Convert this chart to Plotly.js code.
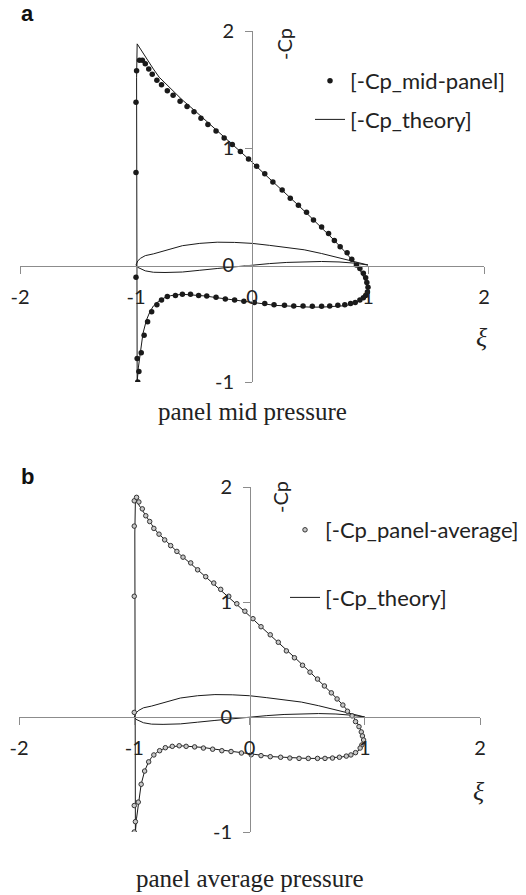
<!DOCTYPE html>
<html>
<head>
<meta charset="utf-8">
<script src="https://cdn.plot.ly/plotly-3.0.1.min.js"></script>
<style>
  html, body { margin: 0; padding: 0; background: #fff; }
  #chart { width: 526px; height: 895px; }
</style>
</head>
<body>
<div id="chart"></div>
<script>
// Airfoil outline (closed loop: leading edge -> upper surface -> trailing edge -> lower surface)
const airfoilX = [-1, -0.985, -0.96, -0.92, -0.85, -0.75, -0.6, -0.45, -0.3, -0.15, 0, 0.15, 0.3, 0.45, 0.6, 0.75, 0.88, 1.0,
                  0.88, 0.75, 0.6, 0.45, 0.3, 0.15, 0, -0.15, -0.3, -0.45, -0.6, -0.75, -0.85, -0.92, -0.96, -0.985, -1];
const airfoilY = [0, 0.035, 0.058, 0.08, 0.095, 0.125, 0.165, 0.185, 0.195, 0.193, 0.185, 0.168, 0.15, 0.13, 0.098, 0.062, 0.03, 0,
                  0.016, 0.026, 0.03, 0.029, 0.022, 0.012, 0, -0.012, -0.03, -0.045, -0.06, -0.064, -0.062, -0.05, -0.035, -0.02, 0];

// Exact (theory) pressure distribution, -Cp vs xi
const theoryX = [1.0, 0.995, 0.985, 0.97, 0.95, 0.93, 0.9, 0.85, 0.8, 0.7, 0.6, 0.5, 0.4, 0.3, 0.2, 0.1, 0.0,
                 -0.1, -0.2, -0.3, -0.4, -0.5, -0.6, -0.7, -0.8, -0.85, -0.9, -0.94, -0.96, -0.98, -0.99, -0.995, -0.995,
                 -0.99, -0.98, -0.97, -0.96, -0.94, -0.91, -0.88, -0.85, -0.8, -0.75, -0.7, -0.6, -0.5, -0.4, -0.3, -0.2,
                 -0.1, 0.0, 0.1, 0.2, 0.3, 0.4, 0.5, 0.6, 0.7, 0.8, 0.85, 0.9, 0.95, 0.975, 0.99, 1.0];
const theoryY = [-0.22, -0.19, -0.155, -0.12, -0.08, -0.04, 0.0, 0.06, 0.115, 0.22, 0.32, 0.415, 0.51, 0.6, 0.695, 0.785, 0.88,
                 0.97, 1.06, 1.15, 1.24, 1.325, 1.41, 1.51, 1.605, 1.675, 1.755, 1.82, 1.85, 1.88, 1.89, 1.6, -0.98,
                 -1.0, -0.88, -0.8, -0.72, -0.585, -0.47, -0.4, -0.35, -0.305, -0.278, -0.262, -0.25, -0.255, -0.265, -0.28, -0.293,
                 -0.31, -0.325, -0.335, -0.345, -0.35, -0.357, -0.36, -0.36, -0.357, -0.348, -0.337, -0.32, -0.29, -0.265, -0.245, -0.22];

// Panel a: -Cp evaluated at the panel mid points
const midX = [-1.0, -1.0, -0.995, -0.97, -0.945, -0.92, -0.89, -0.86, -0.82, -0.78, -0.73, -0.68, -0.62, -0.56, -0.5, -0.44,
              -0.38, -0.31, -0.24, -0.17, -0.1, -0.03, 0.04, 0.11, 0.18, 0.26, 0.33, 0.4, 0.47, 0.53, 0.6, 0.66, 0.71,
              0.76, 0.82, 0.86, 0.9, 0.93, 0.96, 0.98, 0.99, 1.0,
              -1.0, -0.99, -0.985, -0.975, -0.955, -0.93, -0.9, -0.865, -0.82, -0.78, -0.73, -0.66, -0.6, -0.53, -0.46,
              -0.39, -0.31, -0.23, -0.15, -0.07, 0.02, 0.11, 0.19, 0.28, 0.36, 0.44, 0.52, 0.6, 0.67, 0.74, 0.8, 0.85,
              0.89, 0.93, 0.96, 0.98, 0.995];
const midY = [0.79, 1.39, 1.66, 1.75, 1.75, 1.72, 1.675, 1.63, 1.58, 1.54, 1.49, 1.45, 1.4, 1.355, 1.31, 1.255,
              1.2, 1.145, 1.085, 1.03, 0.97, 0.905, 0.845, 0.78, 0.71, 0.64, 0.57, 0.51, 0.45, 0.385, 0.325, 0.27, 0.21,
              0.155, 0.105, 0.05, 0.0, -0.03, -0.07, -0.11, -0.15, -0.19,
              -0.105, -0.8, -1.0, -0.91, -0.75, -0.6, -0.485, -0.4, -0.34, -0.3, -0.27, -0.26, -0.25, -0.25, -0.26,
              -0.265, -0.275, -0.29, -0.3, -0.31, -0.32, -0.33, -0.34, -0.345, -0.35, -0.35, -0.353, -0.353, -0.35, -0.345, -0.34, -0.33,
              -0.32, -0.3, -0.28, -0.26, -0.23];

// Panel b: panel-averaged -Cp
const avgX = [-1.0, -1.0, -1.0, -1.0, -0.98, -0.96, -0.93, -0.9, -0.866, -0.83, -0.785, -0.736, -0.684, -0.63, -0.577, -0.51,
              -0.45, -0.38, -0.31, -0.25, -0.18, -0.11, -0.04, 0.03, 0.1, 0.18, 0.25, 0.32, 0.39, 0.46, 0.525, 0.59, 0.65,
              0.71, 0.76, 0.81, 0.85, 0.89, 0.92, 0.95, 0.97, 0.98, 0.99,
              0.975, 0.96, 0.92, 0.88, 0.84, 0.78, 0.72, 0.655, 0.59, 0.51, 0.43, 0.35, 0.27, 0.18, 0.1, 0.015, -0.07,
              -0.16, -0.24, -0.32, -0.4, -0.476, -0.55, -0.61, -0.67, -0.73, -0.78, -0.83, -0.875, -0.91, -0.94, -0.965,
              -0.99, -1.0, -1.0];
const avgY = [0.04, 1.05, 1.66, 1.88, 1.91, 1.87, 1.81, 1.75, 1.7, 1.64, 1.59, 1.54, 1.49, 1.44, 1.39, 1.34,
              1.28, 1.22, 1.165, 1.11, 1.05, 0.985, 0.92, 0.855, 0.785, 0.715, 0.65, 0.575, 0.515, 0.45, 0.39, 0.33, 0.27,
              0.21, 0.157, 0.104, 0.05, 0.01, -0.04, -0.084, -0.13, -0.165, -0.2,
              -0.243, -0.27, -0.31, -0.33, -0.34, -0.35, -0.357, -0.36, -0.36, -0.36, -0.36, -0.357, -0.35, -0.345, -0.336, -0.328, -0.313,
              -0.3, -0.293, -0.28, -0.27, -0.26, -0.255, -0.25, -0.255, -0.267, -0.293, -0.33, -0.39, -0.47, -0.585, -0.74,
              -0.91, -0.77, -1.0];

const xTicks = [-2, -1, 0, 1, 2];
const yTicks = [-1, 0, 1, 2];

const W = 526, H = 895;
const px = v => v / W;          // pixel -> paper x
const py = v => 1 - v / H;      // pixel -> paper y

const INK = '#1a1a1a';
const AXIS = '#8c8c8c';
const sans = 'Lato, "Open Sans", sans-serif';
const tickFont = { family: sans, size: 20, color: '#222' };

function xAxis(domain, yPos) {
  return {
    domain: domain, range: [-2, 2], anchor: 'free', position: yPos,
    tickvals: xTicks, ticktext: xTicks.map(String), ticks: 'outside', ticklen: 7, tickcolor: AXIS, tickwidth: 1,
    showline: true, linecolor: AXIS, linewidth: 1, showgrid: false, zeroline: false,
    tickfont: tickFont, ticklabelstandoff: 6, fixedrange: true
  };
}
function yAxis(domain, xPos) {
  return {
    domain: domain, range: [-1, 2], anchor: 'free', position: xPos,
    tickvals: yTicks, ticktext: yTicks.map(String), ticks: 'outside', ticklen: 7, tickcolor: AXIS, tickwidth: 1,
    showline: true, linecolor: AXIS, linewidth: 1, showgrid: false, zeroline: false,
    tickfont: tickFont, ticklabelstandoff: 7, fixedrange: true
  };
}

const traces = [
  // panel a
  { x: airfoilX, y: airfoilY, xaxis: 'x', yaxis: 'y', mode: 'lines', line: { color: INK, width: 1 },
    showlegend: false, hoverinfo: 'skip' },
  { x: midX, y: midY, xaxis: 'x', yaxis: 'y', mode: 'markers', name: '[-Cp_mid-panel]',
    marker: { color: INK, size: 5.5 }, legend: 'legend', legendgroup: 'a1' },
  { x: theoryX, y: theoryY, xaxis: 'x', yaxis: 'y', mode: 'lines', name: '[-Cp_theory]',
    line: { color: INK, width: 1 }, legend: 'legend', legendgroup: 'a2' },
  // panel b
  { x: airfoilX, y: airfoilY, xaxis: 'x2', yaxis: 'y2', mode: 'lines', line: { color: INK, width: 1 },
    showlegend: false, hoverinfo: 'skip' },
  { x: theoryX, y: theoryY, xaxis: 'x2', yaxis: 'y2', mode: 'lines', name: '[-Cp_theory]',
    line: { color: INK, width: 1 }, legend: 'legend2', legendgroup: 'b2', legendrank: 2 },
  { x: avgX, y: avgY, xaxis: 'x2', yaxis: 'y2', mode: 'markers', name: '[-Cp_panel-average]',
    marker: { color: '#c8c8c8', size: 4.5, line: { color: '#333', width: 1 } },
    legend: 'legend2', legendgroup: 'b1', legendrank: 1 }
];

const legendBase = {
  xanchor: 'left', yanchor: 'top', bgcolor: 'rgba(0,0,0,0)', borderwidth: 0,
  font: { family: sans, size: 22, color: '#222' },
  itemwidth: 30, traceorder: 'grouped'
};

const serif = '"Liberation Serif", "Times New Roman", serif';
const boldFont = { family: '"Liberation Sans", Arial, sans-serif', size: 22, color: '#111' };

// every label is centred on its point
function label(text, x, y, font, extra) {
  return Object.assign({ text: text, x: px(x), y: py(y), xref: 'paper', yref: 'paper',
    xanchor: 'center', yanchor: 'middle', showarrow: false, font: font }, extra || {});
}

const annotations = [
  label('<b>a</b>', 27, 14, boldFont),
  label('<b>b</b>', 27, 476, boldFont),
  label('-Cp', 284, 44, tickFont, { textangle: -90 }),
  label('-Cp', 280, 497, tickFont, { textangle: -90 }),
  label('<i>ξ</i>', 482, 338, { family: serif, size: 26, color: '#222' }),
  label('<i>ξ</i>', 479, 791, { family: serif, size: 26, color: '#222' }),
  label('panel mid pressure', 252, 411, { family: serif, size: 25, color: '#222' }),
  label('panel average pressure', 250, 878, { family: serif, size: 25, color: '#222' })
];

const layout = {
  width: W, height: H, margin: { l: 0, r: 0, t: 0, b: 0 },
  paper_bgcolor: '#fff', plot_bgcolor: 'rgba(0,0,0,0)',
  xaxis: xAxis([px(20), px(484)], py(266)),
  yaxis: yAxis([py(382), py(31)], px(252)),
  xaxis2: xAxis([px(19), px(480)], py(717)),
  yaxis2: yAxis([py(832), py(487)], px(250)),
  legend: Object.assign({}, legendBase, { x: px(310), y: py(60), tracegroupgap: 7 }),
  legend2: Object.assign({}, legendBase, { x: px(285), y: py(509), tracegroupgap: 36 }),
  annotations: annotations,
  showlegend: true
};

Plotly.newPlot('chart', traces, layout, { displayModeBar: false, staticPlot: true });
</script>
</body>
</html>
